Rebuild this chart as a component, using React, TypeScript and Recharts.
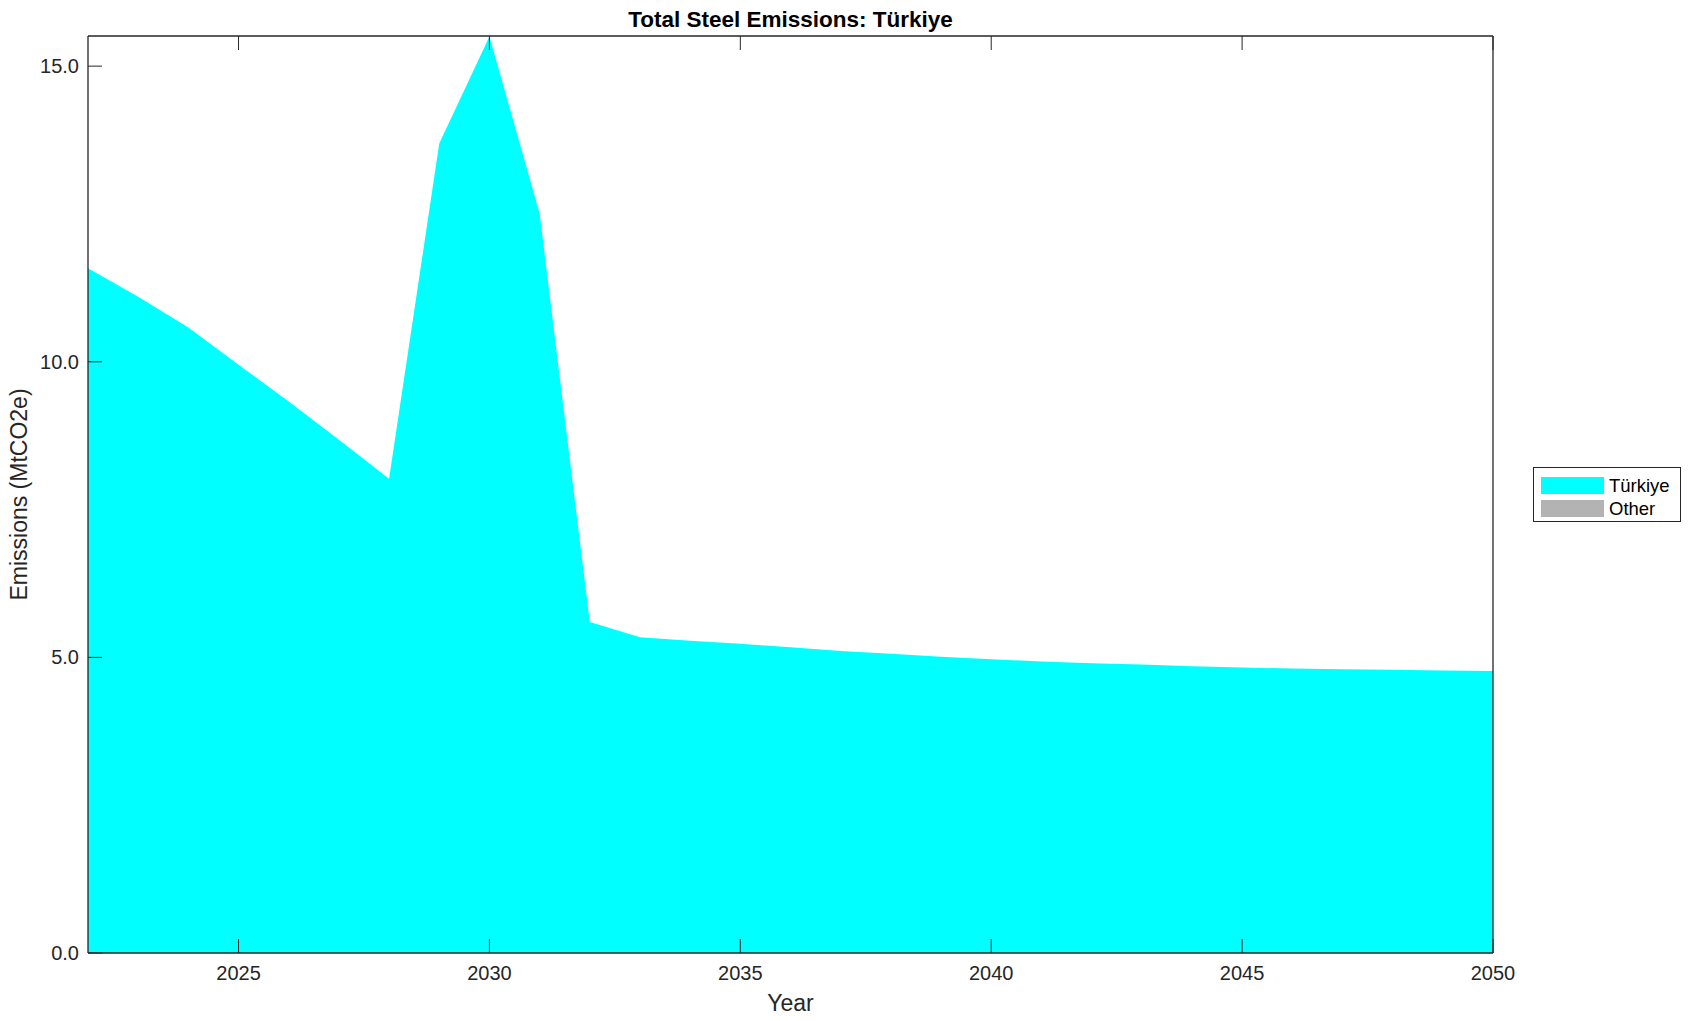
import { Area, AreaChart, Label, Legend, XAxis, YAxis } from 'recharts'

const years = [
  2022, 2023, 2024, 2025, 2026, 2027, 2028, 2029, 2030, 2031, 2032, 2033, 2034, 2035, 2036,
  2037, 2038, 2039, 2040, 2041, 2042, 2043, 2044, 2045, 2046, 2047, 2048, 2049, 2050
]
const turkiyeValues = [
  11.58, 11.1, 10.58, 9.95, 9.33, 8.68, 8.02, 13.69, 15.5, 12.51, 5.6, 5.34, 5.28, 5.23, 5.17,
  5.11, 5.06, 5.01, 4.97, 4.93, 4.9, 4.88, 4.85, 4.83, 4.81, 4.8, 4.79, 4.78, 4.77
]
const otherValues = [
  0, 0, 0, 0, 0, 0, 0, 0, 0, 0, 0, 0, 0, 0, 0, 0, 0, 0, 0, 0, 0, 0, 0, 0, 0, 0, 0, 0, 0
]
const xTicks = [2025, 2030, 2035, 2040, 2045, 2050]
const yTicks = [0, 5, 10, 15]
const seriesNames = ['Türkiye', 'Other']
const seriesColors = ['#00FFFF', '#B3B3B3']

const chartData = years.map((year, i) => ({
  year,
  turkiye: turkiyeValues[i],
  other: otherValues[i]
}))

const FONT = '"Liberation Sans", Arial, Helvetica, sans-serif'
const INK = '#262626'

function renderLegend() {
  return (
    <div
      style={{
        border: `1px solid ${INK}`,
        background: '#fff',
        boxSizing: 'border-box',
        width: 148,
        height: 55,
        padding: '6px 0 0 7px',
        fontFamily: FONT,
        fontSize: 18.5,
        color: '#000'
      }}
    >
      {seriesNames.map((name, i) => (
        <div key={name} style={{ display: 'flex', alignItems: 'center', height: 23 }}>
          <span style={{ width: 63, height: 17, background: seriesColors[i], display: 'inline-block' }} />
          <span style={{ marginLeft: 5, lineHeight: '23px' }}>{name}</span>
        </div>
      ))}
    </div>
  )
}

export default function App() {
  return (
    <div style={{ position: 'absolute', left: 0, top: 0, width: 1691, height: 1021, background: '#fff' }}>
      <div
        style={{
          position: 'absolute',
          left: 0,
          width: 1581,
          top: 7,
          textAlign: 'center',
          fontFamily: FONT,
          fontWeight: 'bold',
          fontSize: 22.5,
          lineHeight: '25px',
          color: '#000'
        }}
      >
        Total Steel Emissions: Türkiye
      </div>
      <AreaChart
        width={1691}
        height={1021}
        data={chartData}
        margin={{ top: 35, right: 197, bottom: 67, left: 87 }}
      >
        <Area
          type="linear"
          dataKey="turkiye"
          name="Türkiye"
          stackId="s"
          stroke="none"
          fill="#00FFFF"
          fillOpacity={1}
          isAnimationActive={false}
        />
        <Area
          type="linear"
          dataKey="other"
          name="Other"
          stackId="s"
          stroke="none"
          fill="#B3B3B3"
          fillOpacity={1}
          isAnimationActive={false}
        />
        <XAxis
          dataKey="year"
          type="number"
          domain={[2022, 2050]}
          ticks={xTicks}
          height={1}
          tickSize={-14}
          tickMargin={27}
          axisLine={{ stroke: INK, strokeWidth: 1.3 }}
          tickLine={{ stroke: INK }}
          tick={{ fill: INK, fontSize: 20, fontFamily: FONT }}
        >
          <Label
            content={({ viewBox }: any) => (
              <text
                x={viewBox.x + viewBox.width / 2}
                y={1011}
                textAnchor="middle"
                fill={INK}
                fontSize={23}
                fontFamily={FONT}
              >
                Year
              </text>
            )}
          />
        </XAxis>
        <XAxis
          xAxisId="top"
          dataKey="year"
          type="number"
          orientation="top"
          domain={[2022, 2050]}
          ticks={xTicks}
          height={1}
          tickSize={-14}
          tickFormatter={() => ''}
          axisLine={{ stroke: INK, strokeWidth: 1.3 }}
          tickLine={{ stroke: INK }}
        />
        <YAxis
          type="number"
          domain={[0, 15.51]}
          ticks={yTicks}
          width={1}
          tickSize={-14}
          tickMargin={23}
          tickFormatter={(v: number) => v.toFixed(1)}
          axisLine={{ stroke: INK, strokeWidth: 1.3 }}
          tickLine={{ stroke: INK }}
          tick={{ fill: INK, fontSize: 20, fontFamily: FONT }}
        >
          <Label
            content={({ viewBox }: any) => {
              const cx = 19
              const cy = viewBox.y + viewBox.height / 2
              return (
                <text
                  x={cx}
                  y={cy}
                  transform={`rotate(-90, ${cx}, ${cy})`}
                  textAnchor="middle"
                  dominantBaseline="central"
                  fill={INK}
                  fontSize={23}
                  fontFamily={FONT}
                >
                  Emissions (MtCO2e)
                </text>
              )
            }}
          />
        </YAxis>
        <YAxis
          yAxisId="right"
          type="number"
          orientation="right"
          domain={[0, 15.51]}
          ticks={yTicks}
          width={1}
          tickSize={-14}
          tickFormatter={() => ''}
          axisLine={{ stroke: INK, strokeWidth: 1.3 }}
          tickLine={{ stroke: INK }}
        />
        <Legend
          layout="vertical"
          align="center"
          verticalAlign="middle"
          wrapperStyle={{ position: 'absolute', left: 1533, top: 467, width: 148, height: 55 }}
          content={renderLegend}
        />
      </AreaChart>
    </div>
  )
}
